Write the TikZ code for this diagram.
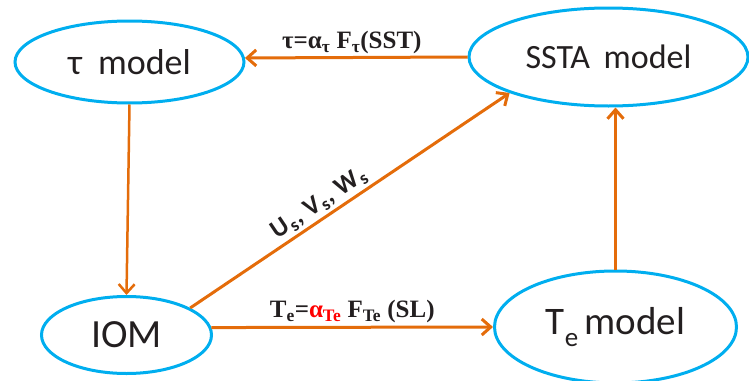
\documentclass[tikz,border=0pt]{standalone}
\usepackage{fontspec}
\setmainfont{Liberation Serif}
\newfontfamily\nodesans{Carlito}
\usetikzlibrary{shapes.geometric,arrows.meta}
\definecolor{eblue}{RGB}{0,174,239}
\definecolor{aorange}{RGB}{228,108,10}
\definecolor{ink}{RGB}{35,31,32}
\begin{document}
\begin{tikzpicture}[x=1pt,y=-1pt,
  model/.style={ellipse, draw=eblue, line width=3pt, inner sep=0pt, text=ink},
  link/.style={draw=aorange, line width=3pt, -{Straight Barb[length=9pt,width=16pt]}},
  lab/.style={font=\bfseries\fontsize{25}{28}\selectfont, text=ink, inner sep=1pt},
  slab/.style={font=\nodesans\bfseries\fontsize{26}{28}\selectfont, text=ink, inner sep=1pt}
]
\clip (0,0) rectangle (749,380);
\useasboundingbox (0,0) rectangle (749,380);
\node[model, minimum width=229pt, minimum height=82pt] (tau) at (129.5,62)
  {\nodesans\fontsize{36}{40}\selectfont τ\hspace{0.45em}model};
\node[model, minimum width=279pt, minimum height=98pt] (ssta) at (608.5,57)
  {\nodesans\fontsize{34}{36}\selectfont SSTA\hspace{0.4em}model};
\node[model, minimum width=170pt, minimum height=77pt] (iom) at (126.5,335)
  {\nodesans\fontsize{40}{44}\selectfont IOM};
\node[model, minimum width=242pt, minimum height=112pt] (te) at (615.5,327)
  {\nodesans\fontsize{39}{42}\selectfont T\raisebox{-0.32em}{\fontsize{27}{28}\selectfont e}\,model};
\draw[link] (ssta.west) -- (tau.2)
  node[lab, pos=0.52, above=1pt] {τ=α\textsubscript{τ} F\textsubscript{τ}(SST)};
\draw[link, line width=2.5pt] (tau.south) -- (iom.north);
\draw[link] (iom.23) -- (ssta.200)
  node[slab, pos=0.43, sloped, above=2pt] {U\kern1pt\textsubscript{s}\kern1pt, V\kern1pt\textsubscript{s}\kern1pt, W\kern1pt\textsubscript{s}};
\draw[link] (iom.5) -- (te.west)
  node[lab, pos=0.5, above=2pt] {T\textsubscript{e}=\textcolor{red}{α\textsubscript{Te}} F\textsubscript{Te} (SL)};
\draw[link] (te.north) -- (te.north |- ssta.south);
\end{tikzpicture}
\end{document}
